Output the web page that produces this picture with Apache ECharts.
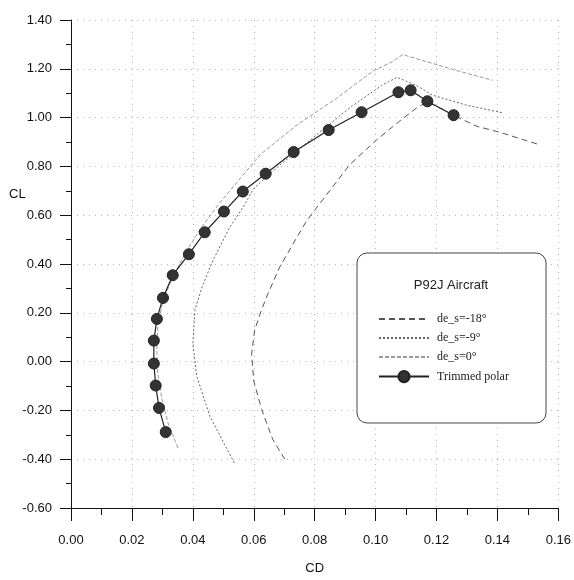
<!DOCTYPE html>
<html>
<head>
<meta charset="utf-8">
<script src="https://cdn.jsdelivr.net/npm/echarts@6/dist/echarts.min.js"></script>
<style>
  html, body { margin: 0; padding: 0; background: #fff; }
  #myChart { width: 574px; height: 580px; }
</style>
</head>
<body>
<div id="myChart"></div>
<script>
// drag polars, [CD, CL] pairs
var polarDe0 = [
  [0.0351, -0.354], [0.0318, -0.25], [0.0298, -0.15], [0.0285, -0.05], [0.0282, 0.05],
  [0.0285, 0.15], [0.0302, 0.25], [0.0335, 0.35], [0.0378, 0.45], [0.0428, 0.55],
  [0.0488, 0.65], [0.0555, 0.75], [0.0620, 0.847], [0.0741, 0.969], [0.0872, 1.079],
  [0.0990, 1.19], [0.1056, 1.23], [0.1089, 1.258], [0.1266, 1.193], [0.1384, 1.153]
];
var polarDeM9 = [
  [0.0536, -0.415], [0.0456, -0.224], [0.0413, -0.061], [0.0400, 0.073], [0.0407, 0.212],
  [0.0430, 0.305], [0.0466, 0.415], [0.0521, 0.55], [0.0564, 0.631], [0.0600, 0.71],
  [0.0675, 0.794], [0.0793, 0.916], [0.0915, 1.04], [0.1020, 1.132], [0.1070, 1.165],
  [0.1134, 1.132], [0.1187, 1.092], [0.1298, 1.051], [0.1415, 1.02]
];
var polarDeM18 = [
  [0.0702, -0.40], [0.0662, -0.318], [0.0626, -0.196], [0.0600, -0.08], [0.0593, 0.03],
  [0.0603, 0.13], [0.0625, 0.21], [0.0646, 0.277], [0.0685, 0.387], [0.0728, 0.48],
  [0.0774, 0.578], [0.0849, 0.70], [0.0915, 0.807], [0.1003, 0.908], [0.1079, 0.986],
  [0.1134, 1.039], [0.1170, 1.065], [0.1256, 1.01], [0.1331, 0.965], [0.1407, 0.94],
  [0.1535, 0.89]
];
var trimmedPolar = [
  [0.0311, -0.289], [0.0289, -0.19], [0.0278, -0.098], [0.0272, -0.008], [0.0272, 0.086],
  [0.0282, 0.175], [0.0302, 0.261], [0.0334, 0.354], [0.0387, 0.44], [0.0439, 0.53],
  [0.0502, 0.615], [0.0564, 0.697], [0.0639, 0.77], [0.0731, 0.859], [0.0846, 0.949],
  [0.0954, 1.022], [0.1075, 1.104], [0.1115, 1.112], [0.1170, 1.067], [0.1256, 1.01]
];
var legendNames = ['de_s=-18°', 'de_s=-9°', 'de_s=0°', 'Trimmed polar'];

var myChart = echarts.init(document.getElementById('myChart'));
var axisFont = { fontFamily: 'Liberation Sans', fontSize: 13, color: '#111' };
var dotted = { show: true, lineStyle: { color: '#b4b4b4', type: [1, 5], width: 1 } };

// plain dashed polar line, no symbols (hidden in legend too)
function polarLine(name, data, color, dash) {
  return {
    name: name, type: 'line', data: data,
    showSymbol: false, symbol: 'none',
    itemStyle: { color: color, opacity: 0 },
    lineStyle: { color: color, width: 1, type: dash }
  };
}

var option = {
  animation: false,
  backgroundColor: '#fff',
  grid: { left: 71, right: 15, top: 20, bottom: 69 },
  xAxis: {
    type: 'value',
    min: 0, max: 0.16, interval: 0.02,
    name: 'CD', nameLocation: 'middle', nameGap: 54,
    nameTextStyle: axisFont,
    axisLine: { onZero: false, lineStyle: { color: '#111', width: 1 } },
    axisTick: { length: 13, lineStyle: { color: '#111' } },
    minorTick: { show: true, splitNumber: 2, length: 7, lineStyle: { color: '#111' } },
    axisLabel: Object.assign({ margin: 26, formatter: function (v) { return v.toFixed(2); } }, axisFont),
    splitLine: dotted
  },
  yAxis: {
    type: 'value',
    min: -0.6, max: 1.4, interval: 0.2,
    axisLine: { onZero: false, lineStyle: { color: '#111', width: 1 } },
    axisTick: { length: 11, lineStyle: { color: '#111' } },
    minorTick: { show: true, splitNumber: 2, length: 5, lineStyle: { color: '#111' } },
    axisLabel: Object.assign({ margin: 19, formatter: function (v) { return v.toFixed(2); } }, axisFont),
    splitLine: dotted
  },
  legend: {
    data: legendNames,
    orient: 'vertical',
    left: 373, top: 308,
    itemWidth: 50, itemHeight: 14, itemGap: 7,
    textStyle: { fontFamily: 'Liberation Serif', fontSize: 12, color: '#222', padding: [0, 0, 0, 3] }
  },
  graphic: [
    {
      type: 'rect', z: 3,
      shape: { x: 357, y: 253, width: 189, height: 170, r: 10 },
      style: { fill: '#fff', stroke: '#444', lineWidth: 1 }
    },
    {
      type: 'text', z: 5, x: 451, y: 285,
      style: { text: 'P92J Aircraft', font: '13px "Liberation Sans"', fill: '#222',
        textAlign: 'center', textVerticalAlign: 'middle' }
    },
    {
      type: 'text', z: 5, left: 9, top: 188,
      style: { text: 'CL', font: '13px "Liberation Sans"', fill: '#111' }
    }
  ],
  series: [
    polarLine('de_s=-18°', polarDeM18, '#555', [6, 4]),
    polarLine('de_s=-9°', polarDeM9, '#666', [2, 2]),
    polarLine('de_s=0°', polarDe0, '#999', [4, 2]),
    {
      name: 'Trimmed polar', type: 'line', data: trimmedPolar, z: 4,
      symbol: 'circle', symbolSize: 11,
      itemStyle: { color: '#333', borderColor: '#222', borderWidth: 1 },
      lineStyle: { color: '#222', width: 1.2 }
    }
  ]
};
myChart.setOption(option);
</script>
</body>
</html>
